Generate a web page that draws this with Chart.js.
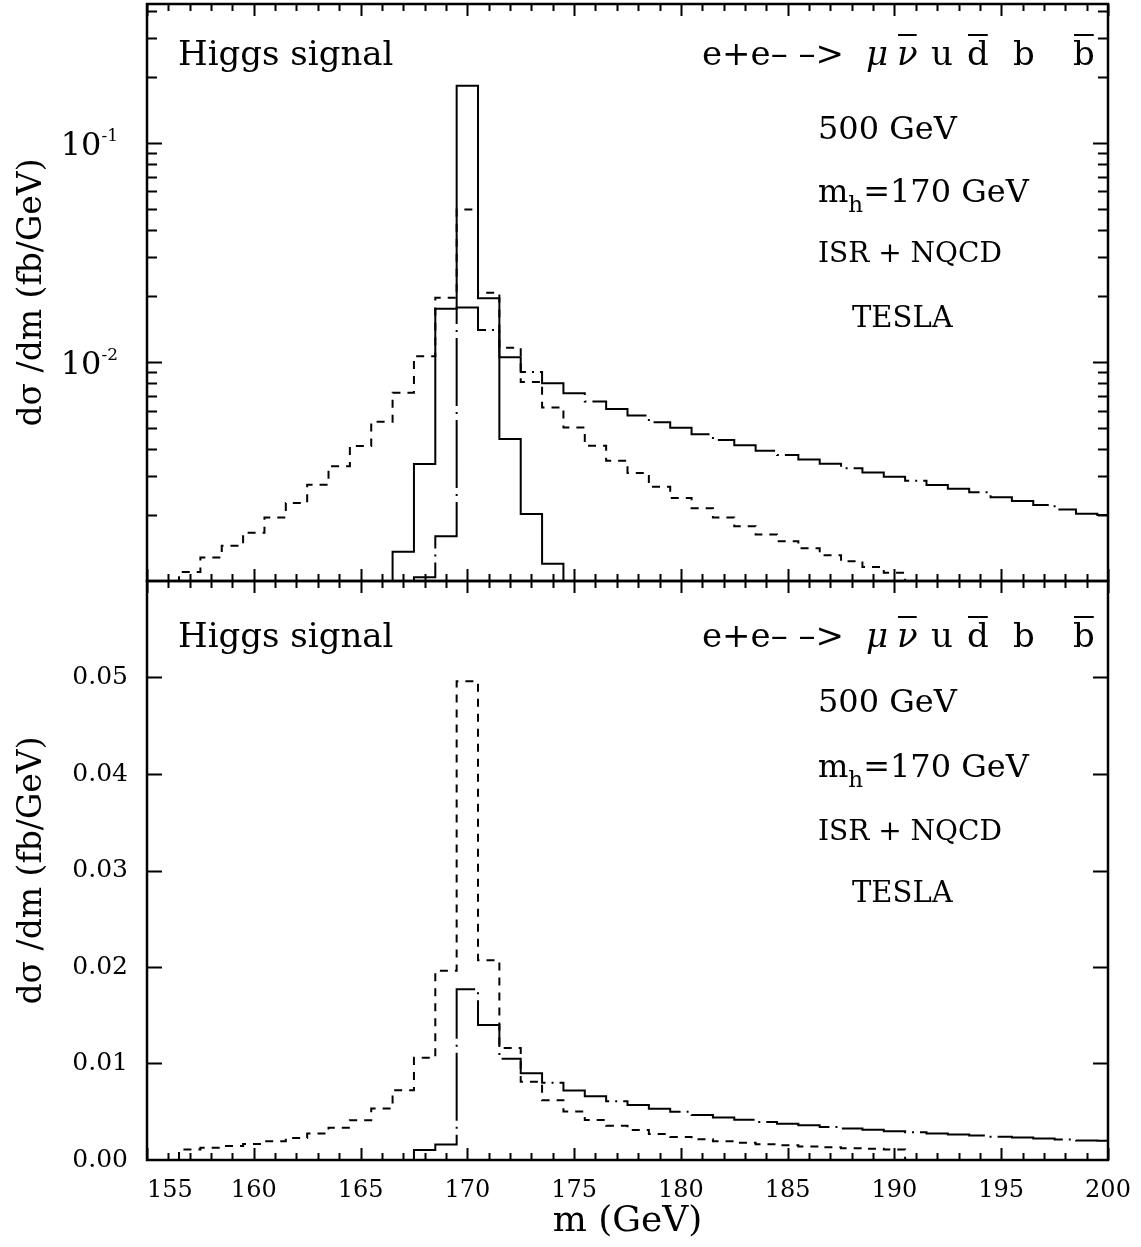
<!DOCTYPE html>
<html>
<head>
<meta charset="utf-8">
<script src="https://cdn.jsdelivr.net/npm/chart.js@4"></script>
<style>
  html, body { margin: 0; padding: 0; background: #fff; }
  #wrap { position: relative; width: 1141px; height: 1247px; }
  #topChart { position: absolute; left: 0; top: 0; }
  #botChart { position: absolute; left: 0; top: 575px; }
</style>
</head>
<body>
<div id="wrap">
  <canvas id="topChart" width="1141" height="600"></canvas>
  <canvas id="botChart" width="1141" height="672"></canvas>
</div>
<script>
// histograms use 1 GeV bins, the arrays hold dsigma/dm per bin (fb/GeV)
const binWidth = 1;

// narrow solid peak (only drawn in the log panel)
const narrowStart = 166.5;
const narrowVals = [0.00136, 0.00342, 0.0175, 0.182, 0.0195, 0.00445, 0.00202, 0.0012];

// dashed histogram
const dashedStart = 156.5;
const dashedVals = [0.0011, 0.00128, 0.00145, 0.00166, 0.00195, 0.00227, 0.00275, 0.00334,
  0.00413, 0.00533, 0.00724, 0.0106, 0.0196, 0.0496, 0.0207, 0.0116, 0.0081, 0.0062,
  0.00502, 0.00414, 0.00354, 0.00311, 0.00269, 0.00239, 0.00215, 0.00195, 0.00178,
  0.00163, 0.00152, 0.00141, 0.00131, 0.00123, 0.00116, 0.00109];

// dash-dot histogram with the long tail
const dotDashStart = 167.5;
const dotDashVals = [0.00104, 0.0016, 0.0177, 0.014, 0.0105, 0.009, 0.008, 0.0072, 0.0066,
  0.0061, 0.0057, 0.0053, 0.005, 0.00467, 0.0044, 0.00417, 0.00393, 0.00376, 0.00359,
  0.00343, 0.00327, 0.00313, 0.00299, 0.00287, 0.00274, 0.00264, 0.00254, 0.00241,
  0.00232, 0.00222, 0.00212, 0.00203, 0.002];

// axes
const xMin = 155, xMax = 200, xLabelStep = 5;
const topYMin = 0.001, topYMax = 0.43;
const topMajorTicks = [0.01, 0.1];
const topMinorTicks = [0.002, 0.003, 0.004, 0.005, 0.006, 0.007, 0.008, 0.009,
  0.02, 0.03, 0.04, 0.05, 0.06, 0.07, 0.08, 0.09, 0.2, 0.3, 0.4];
const topLogLabels = [[0.1, '-1'], [0.01, '-2']];
const botYMin = 0, botYMax = 0.06, botYStep = 0.01;
const botTicks = [0.01, 0.02, 0.03, 0.04, 0.05];

const yTitle = 'd\u03c3 /dm (fb/GeV)';
const xTitle = 'm (GeV)';

const serif = '"DejaVu Serif", serif';
const dashPattern = [8, 7];
const dotDashPattern = [68, 6, 2, 6];

function histPoints(start, vals, floor) {
    const pts = [{ x: start, y: floor }];
    vals.forEach((v, i) => pts.push({ x: start + i * binWidth, y: v }));
    const end = start + vals.length * binWidth;
    pts.push({ x: end, y: vals[vals.length - 1] });
    pts.push({ x: end, y: floor });
    return pts;
}

function histDataset(start, vals, floor, dash) {
    return {
        data: histPoints(start, vals, floor),
        stepped: true,
        borderColor: '#000',
        borderWidth: 2,
        borderDash: dash,
        pointRadius: 0,
        fill: false
    };
}

function drawFrame(chart, yMajor, yMinor) {
    const { ctx, chartArea: a, scales: { x, y } } = chart;
    ctx.save();
    ctx.strokeStyle = '#000';
    ctx.lineWidth = 2;
    ctx.beginPath();
    for (let m = xMin; m <= xMax; m++) {
        const px = Math.round(x.getPixelForValue(m)) + 0.5;
        const len = m % 5 === 0 ? 12 : 7;
        ctx.moveTo(px, a.bottom); ctx.lineTo(px, a.bottom - len);
        ctx.moveTo(px, a.top); ctx.lineTo(px, a.top + len);
    }
    const yt = yMajor.map(v => [v, 15]).concat(yMinor.map(v => [v, 10]));
    yt.forEach(([v, len]) => {
        const py = Math.round(y.getPixelForValue(v)) + 0.5;
        ctx.moveTo(a.left, py); ctx.lineTo(a.left + len, py);
        ctx.moveTo(a.right, py); ctx.lineTo(a.right - len, py);
    });
    ctx.stroke();
    ctx.lineWidth = 2.5;
    ctx.strokeRect(a.left, a.top, a.right - a.left, a.bottom - a.top);
    ctx.restore();
}

function txt(ctx, s, x, y, font) {
    ctx.font = font;
    ctx.fillText(s, x, y);
    return ctx.measureText(s).width;
}

function drawNotes(chart, rows) {
    const { ctx, chartArea: a } = chart;
    const big = '34px ' + serif;
    const ital = 'italic 34px ' + serif;
    const mid = '32px ' + serif;
    const r = rows.map(d => a.top + d);
    ctx.save();
    ctx.fillStyle = '#000';
    ctx.strokeStyle = '#000';
    ctx.textBaseline = 'alphabetic';
    ctx.textAlign = 'left';
    txt(ctx, 'Higgs signal', a.left + 31, r[0], big);

    // e+e- -> mu nubar u dbar b bbar
    const parts = [
        ['e+e\u2013 \u2013>', -406, big, false],
        ['\u03bc', -242, ital, false],
        ['\u03bd', -211, ital, true],
        ['u', -177, big, false],
        ['d', -141, big, true],
        ['b', -95, big, false],
        ['b', -35, big, true]
    ];
    ctx.lineWidth = 2;
    parts.forEach(([s, dx, f, bar]) => {
        const w = txt(ctx, s, a.right + dx, r[0], f);
        if (bar) {
            ctx.beginPath();
            ctx.moveTo(a.right + dx + 1, r[0] - 30);
            ctx.lineTo(a.right + dx + w - 1, r[0] - 30);
            ctx.stroke();
        }
    });

    txt(ctx, '500 GeV', a.left + 671, r[1], mid);
    let mx = a.left + 671;
    mx += txt(ctx, 'm', mx, r[2], mid);
    mx += txt(ctx, 'h', mx, r[2] + 10, '23px ' + serif);
    txt(ctx, '=170 GeV', mx, r[2], mid);
    txt(ctx, 'ISR + NQCD', a.left + 671, r[3], '28px ' + serif);
    txt(ctx, 'TESLA', a.left + 705, r[4], '29px ' + serif);
    ctx.restore();
}

const topPlugin = {
    id: 'topDecor',
    afterDraw(chart) {
        drawFrame(chart, topMajorTicks, topMinorTicks);
        const { ctx, scales: { y } } = chart;
        ctx.save();
        ctx.fillStyle = '#000';
        ctx.textBaseline = 'alphabetic';
        ctx.textAlign = 'right';
        topLogLabels.forEach(([v, e]) => {
            const py = y.getPixelForValue(v);
            ctx.font = '17px ' + serif;
            const ew = ctx.measureText(e).width;
            ctx.fillText(e, 118, py - 2);
            ctx.font = '32px ' + serif;
            ctx.fillText('10', 118 - ew, py + 12);
        });
        ctx.restore();
        drawNotes(chart, [61, 135, 198, 258, 323]);
    }
};

const botPlugin = {
    id: 'botDecor',
    afterDraw(chart) {
        drawFrame(chart, botTicks, []);
        drawNotes(chart, [66, 131, 196, 259, 321]);
    }
};

const commonPlugins = { legend: { display: false }, tooltip: { enabled: false } };

new Chart(document.getElementById('topChart'), {
    type: 'line',
    data: {
        datasets: [
            histDataset(narrowStart, narrowVals, 1e-5, []),
            histDataset(dashedStart, dashedVals, 1e-5, dashPattern),
            histDataset(dotDashStart, dotDashVals, 1e-5, dotDashPattern)
        ]
    },
    options: {
        responsive: false,
        animation: false,
        layout: { padding: { left: 0, right: 33, top: 4, bottom: 19 } },
        plugins: commonPlugins,
        scales: {
            x: { type: 'linear', min: xMin, max: xMax, display: false },
            y: {
                type: 'logarithmic', min: topYMin, max: topYMax,
                grid: { display: false, drawTicks: false },
                border: { display: false },
                ticks: { display: false },
                title: { display: true, text: yTitle, color: '#000', font: { family: serif, size: 33 }, padding: { top: 13, bottom: 0 } },
                afterFit: (s) => { s.width = 147; s.paddingTop = 0; s.paddingBottom = 0; }
            }
        }
    },
    plugins: [topPlugin]
});

new Chart(document.getElementById('botChart'), {
    type: 'line',
    data: {
        datasets: [
            histDataset(dashedStart, dashedVals, 0, dashPattern),
            histDataset(dotDashStart, dotDashVals, 0, dotDashPattern)
        ]
    },
    options: {
        responsive: false,
        animation: false,
        layout: { padding: { left: 0, right: 33, top: 6, bottom: 0 } },
        plugins: commonPlugins,
        scales: {
            x: {
                type: 'linear', min: xMin, max: xMax,
                grid: { display: false, drawTicks: false },
                border: { display: false },
                ticks: {
                    stepSize: xLabelStep, autoSkip: false, maxRotation: 0, padding: 16,
                    color: '#000', font: { family: serif, size: 24 },
                    callback: (v) => v === xMin ? '\u2007\u2007\u2007' + v : String(v)
                },
                title: { display: true, text: xTitle, color: '#000', font: { family: serif, size: 36 }, padding: { top: 0, bottom: 4 } },
                afterFit: (s) => { s.height = 87; s.paddingLeft = 0; s.paddingRight = 0; }
            },
            y: {
                type: 'linear', min: botYMin, max: botYMax,
                grid: { display: false, drawTicks: false },
                border: { display: false },
                ticks: {
                    stepSize: botYStep, padding: 19, color: '#000',
                    font: { family: serif, size: 25 },
                    callback: (v) => v > 0.055 ? null : v.toFixed(2)
                },
                title: { display: true, text: yTitle, color: '#000', font: { family: serif, size: 33 }, padding: { top: 13, bottom: 0 } },
                afterFit: (s) => { s.width = 147; s.paddingTop = 0; s.paddingBottom = 0; }
            }
        }
    },
    plugins: [botPlugin]
});
</script>
</body>
</html>
